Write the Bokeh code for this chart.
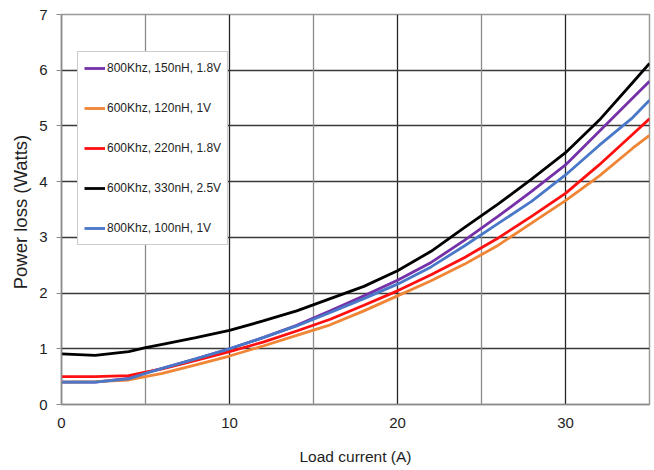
from bokeh.plotting import figure
from bokeh.models import FixedTicker, Grid, Legend, LegendItem, Range1d
from bokeh.embed import file_html
from bokeh.resources import INLINE

# ---- data ----
load_current = [0, 2, 4, 5, 6, 8, 10, 12, 14, 16, 18, 20, 22, 24, 26, 28, 30, 32, 34, 35]

loss_800k_150n_18v = [0.40, 0.40, 0.47, 0.57, 0.65, 0.82, 1.00, 1.20, 1.42, 1.68, 1.95, 2.23,
                      2.55, 2.95, 3.38, 3.83, 4.30, 4.90, 5.50, 5.80]
loss_600k_120n_1v = [0.40, 0.41, 0.44, 0.50, 0.56, 0.71, 0.87, 1.05, 1.24, 1.43, 1.68, 1.95,
                     2.22, 2.52, 2.86, 3.26, 3.66, 4.10, 4.60, 4.83]
loss_600k_220n_18v = [0.50, 0.50, 0.52, 0.58, 0.64, 0.79, 0.95, 1.12, 1.32, 1.53, 1.78, 2.04,
                      2.33, 2.64, 2.99, 3.38, 3.79, 4.30, 4.85, 5.13]
loss_600k_330n_25v = [0.91, 0.88, 0.95, 1.02, 1.08, 1.20, 1.33, 1.50, 1.68, 1.90, 2.12, 2.40,
                      2.75, 3.18, 3.60, 4.05, 4.52, 5.10, 5.78, 6.12]
loss_800k_100n_1v = [0.40, 0.40, 0.46, 0.56, 0.65, 0.82, 1.00, 1.20, 1.41, 1.65, 1.90, 2.16,
                     2.47, 2.85, 3.25, 3.65, 4.12, 4.65, 5.15, 5.46]

series_labels = ["800Khz, 150nH, 1.8V", "600Khz, 120nH, 1V", "600Khz, 220nH, 1.8V",
                 "600Khz, 330nH, 2.5V", "800Khz, 100nH, 1V"]
series_values = [loss_800k_150n_18v, loss_600k_120n_1v, loss_600k_220n_18v,
                 loss_600k_330n_25v, loss_800k_100n_1v]
series_colors = ["#7532A8", "#F08536", "#FF1010", "#000000", "#4A78C8"]

x_ticks = [0, 10, 20, 30]
x_minor_grid = [5, 15, 25]
y_ticks = [0, 1, 2, 3, 4, 5, 6, 7]

SANS = "Liberation Sans"

p = figure(width=652, height=468, output_backend="svg", toolbar_location=None,
           x_range=Range1d(0, 35), y_range=Range1d(0, 7),
           min_border_left=61, min_border_right=3, min_border_top=14, min_border_bottom=64)

p.background_fill_color = "white"
p.outline_line_color = "#9a9a9a"
p.outline_line_width = 1.5

# grids
p.xgrid.ticker = FixedTicker(ticks=x_ticks)
p.xgrid.grid_line_color = "#262626"
p.xgrid.grid_line_width = 1.3
p.ygrid.ticker = FixedTicker(ticks=y_ticks)
p.ygrid.grid_line_color = "#3a3a3a"
p.ygrid.grid_line_width = 1.3
p.add_layout(Grid(dimension=0, ticker=FixedTicker(ticks=x_minor_grid),
                  grid_line_color="#8a8a8a", grid_line_width=1.3))

# axes
p.xaxis.ticker = FixedTicker(ticks=x_ticks)
p.yaxis.ticker = FixedTicker(ticks=y_ticks)
for ax in (p.xaxis[0], p.yaxis[0]):
    ax.axis_line_color = "#8a8a8a"
    ax.axis_line_width = 1.5
    ax.minor_tick_line_color = None
    ax.major_label_text_font = SANS
    ax.major_label_text_font_size = "15px"
    ax.major_label_text_color = "#1e1e1e"
    ax.axis_label_text_font = SANS
    ax.axis_label_text_font_style = "normal"
    ax.axis_label_text_color = "#1e1e1e"
p.xaxis.major_tick_line_color = None
p.xaxis.major_tick_out = 0
p.xaxis.major_tick_in = 0
p.xaxis.major_label_standoff = 13
p.xaxis.axis_label = "Load current (A)"
p.xaxis.axis_label_text_font_size = "15.5px"
p.xaxis.axis_label_standoff = 17

p.yaxis.major_tick_line_color = "#8a8a8a"
p.yaxis.major_tick_out = 5
p.yaxis.major_tick_in = 0
p.yaxis.major_label_standoff = 9
p.yaxis.axis_label = "Power  loss (Watts)"
p.yaxis.axis_label_text_font_size = "18.5px"
p.yaxis.axis_label_standoff = 5

items = []
for lab, vals, col in zip(series_labels, series_values, series_colors):
    r = p.line(load_current, vals, line_color=col, line_width=2.8)
    items.append(LegendItem(label=lab, renderers=[r]))

legend = Legend(items=items, location=(16, 159))
legend.label_text_font = SANS
legend.label_text_font_size = "12px"
legend.label_text_color = "#1e1e1e"
legend.glyph_width = 21
legend.glyph_height = 20
legend.label_height = 20
legend.label_standoff = 2
legend.spacing = 20
legend.padding = 6
legend.margin = 0
legend.border_line_color = "#9a9a9a"
legend.border_line_width = 1.2
legend.background_fill_alpha = 1.0
p.add_layout(legend, "center")

open("out.html", "w").write(file_html(p, INLINE))
